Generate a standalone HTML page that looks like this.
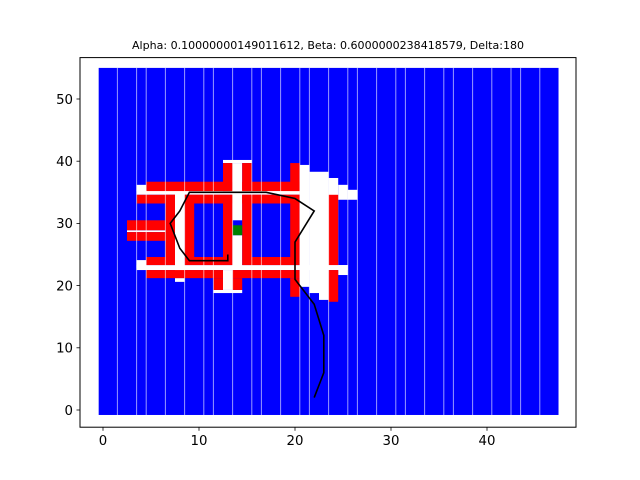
<!DOCTYPE html>
<html><head><meta charset="utf-8"><style>
html,body{margin:0;padding:0;background:#fff;}
svg{display:block;font-family:"DejaVu Sans","Liberation Sans",sans-serif;}
</style></head><body>
<svg id="chart" width="640" height="480" viewBox="0 0 640 480" xmlns="http://www.w3.org/2000/svg">
<rect width="640" height="480" fill="#fff"/>
<text x="328" y="49" font-size="10.2" text-anchor="middle" textLength="392" lengthAdjust="spacingAndGlyphs">Alpha: 0.10000000149011612, Beta: 0.6000000238418579, Delta:180</text>
<g id="plot"></g>
<rect x="80" y="57.6" width="496" height="369.6" fill="none" stroke="#000" stroke-width="1"/>
<g id="ticks"></g>
</svg>
<script>
// data arrays
const xTicks = [0, 10, 20, 30, 40];
const yTicks = [0, 10, 20, 30, 40, 50];
const gridExtent = [-0.45, 47.45, -0.8, 55];
// free-space cells [x0,x1,y0,y1]
const freeCells = [
 [12.5,15.5,39.7,40.2],[13.5,14.5,30.5,39.7],[3.5,20.5,34.6,35.4],[3.5,4.5,35.2,36.2],
 [7.5,8.5,21.2,35.4],[2.5,6.5,28.6,28.9],[3.5,4.5,22.8,24.1],[3.5,25.5,22.5,23.3],
 [7.5,8.5,20.6,21.2],[12.5,13.5,19.3,22.5],[11.5,14.5,18.8,19.3],[13.5,14.5,22.5,28.1],
 [20.5,21.5,19.8,39.4],[21.5,22.5,18.8,38.3],[22.5,23.5,17.7,38.3],[23.5,24.5,22.5,37.3],
 [24.5,25.5,33.8,36.2],[24.5,25.5,21.7,23.3],[25.5,26.5,33.8,35.4]
];
// inflated obstacle cells
const obstacleCells = [
 [4.5,13.5,35.2,36.7],[14.5,20.5,35.2,36.7],
 [12.5,13.5,35.2,39.7],[14.5,15.5,35.2,39.7],[19.5,20.5,35.2,39.7],
 [3.5,7.5,33.2,34.6],[8.5,13.5,33.2,34.6],[14.5,20.5,33.2,34.6],
 [6.5,7.5,23.3,34.6],[2.5,6.5,27.2,28.6],[2.5,6.5,28.9,30.5],[4.5,6.5,23.3,24.6],
 [8.5,13.5,23.3,34.6],[14.5,20.5,23.3,34.6],
 [4.5,12.5,21.2,22.5],[13.5,20.5,21.2,22.5],
 [11.5,12.5,19.3,21.2],[13.5,14.5,19.3,21.2],[19.5,20.5,18.2,21.2],
 [23.5,24.5,23.3,34.6],[23.5,24.5,17.4,22.5]
];
// interior cells left unknown (blue)
const roomInteriors = [[9.5,12.5,24.6,33.2],[15.5,19.5,24.6,33.2]];
const goalCells = [[13.5,14.5,28.1,29.7]];
const pathX = [13,13,9,8,7,8,9,17,20,22,20,20,22,23,23,22];
const pathY = [25,24,24,26,30,32,35,35,34,32,27,21,17,12,6,2];
const seams = [1.5,3.5,4.5,6.5,8.5,10.5,11.5,13.5,15.5,16.5,18.5,20.5,21.5,23.5,25.5,26.5,28.5,30.5,31.5,33.5,35.5,36.5,38.5,40.5,42.5,43.5,45.5];

const NS='http://www.w3.org/2000/svg';
const sx = v => 103 + v*9.6;
const sy = v => 410 - v*6.22;
const plot = document.getElementById('plot');
const ticks = document.getElementById('ticks');
function mk(tag, attrs, parent){const e=document.createElementNS(NS,tag);for(const k in attrs)e.setAttribute(k,attrs[k]);parent.appendChild(e);return e;}
function cell(c, fill, parent){return mk('rect',{x:sx(c[0]),y:sy(c[3]),width:sx(c[1])-sx(c[0]),height:sy(c[2])-sy(c[3]),fill:fill},parent);}

let bg = cell([gridExtent[0],gridExtent[1],gridExtent[2],gridExtent[3]],'#0000ff',plot);


freeCells.forEach(c=>{const r=cell(c,'#ffffff',plot);

});
obstacleCells.forEach(c=>{const r=cell(c,'#ff0000',plot);

});
roomInteriors.forEach(c=>{const r=cell(c,'#0000ff',plot);

});
goalCells.forEach(c=>{const r=cell(c,'#008000',plot);

});
seams.forEach(v=>{const l=mk('line',{x1:sx(v),x2:sx(v),y1:sy(gridExtent[3]),y2:sy(gridExtent[2]),stroke:'#ffffff','stroke-opacity':'0.6','stroke-width':'1'},plot);

});
const pts = pathX.map((x,i)=>sx(x)+','+sy(pathY[i])).join(' ');
const pl = mk('polyline',{points:pts,fill:'none',stroke:'#000','stroke-width':'1.6'},plot);



xTicks.forEach(v=>{
 const t=mk('line',{x1:sx(v),x2:sx(v),y1:427.2,y2:430.7,stroke:'#000','stroke-width':'0.8'},ticks);
 
 
 const l=mk('text',{x:sx(v),y:445,'font-size':'13.3','text-anchor':'middle'},ticks);
 l.textContent=v;
 
 
});
yTicks.forEach(v=>{
 const t=mk('line',{x1:76.5,x2:80,y1:sy(v),y2:sy(v),stroke:'#000','stroke-width':'0.8'},ticks);
 
 
 const l=mk('text',{x:73,y:sy(v)+4.8,'font-size':'13.3','text-anchor':'end'},ticks);
 l.textContent=v;
 
 
});
</script>
</body></html>
